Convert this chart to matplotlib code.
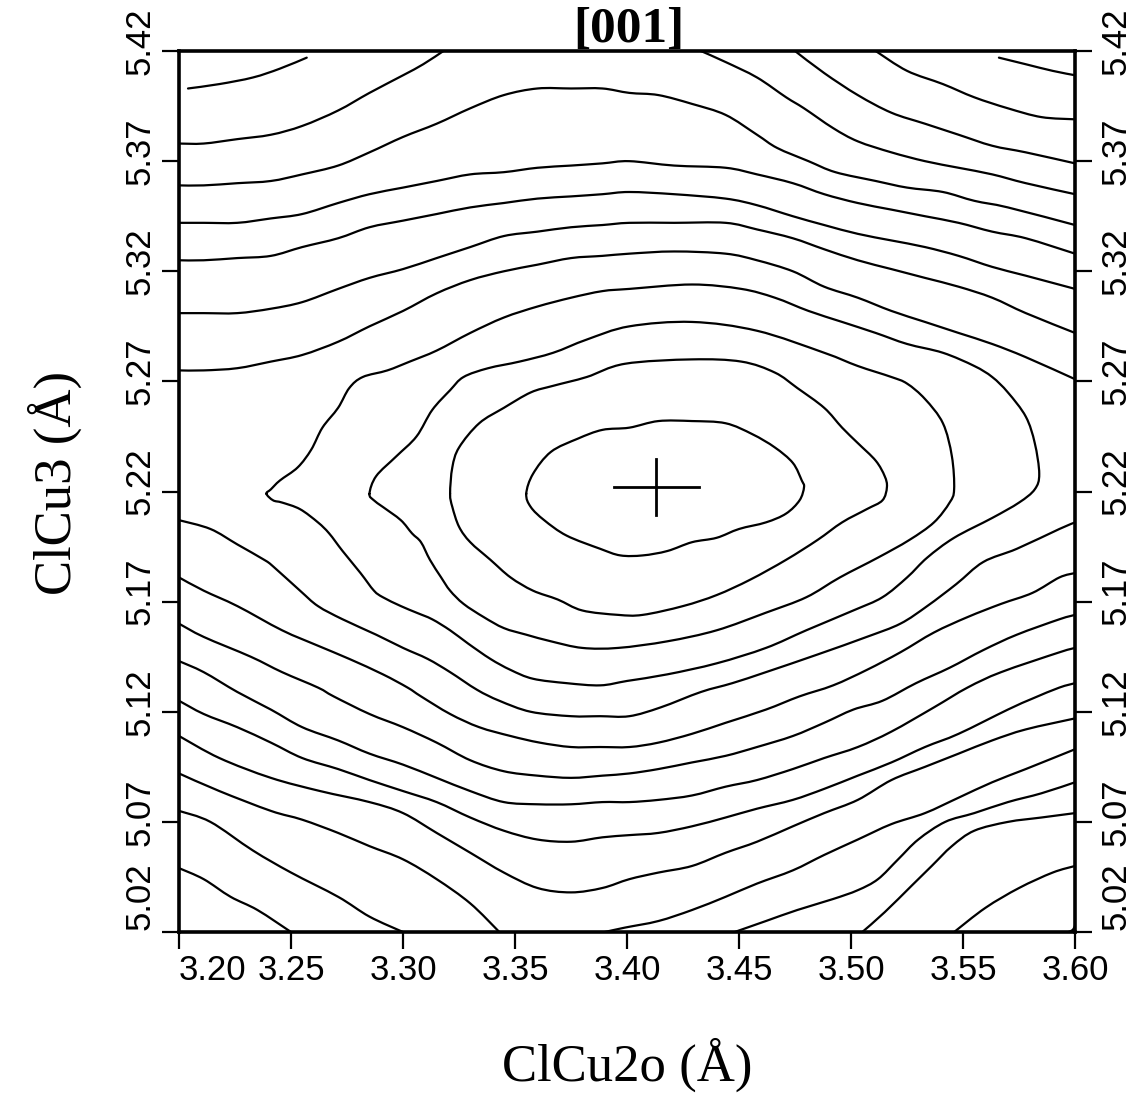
import matplotlib.pyplot as plt
from matplotlib.path import Path
from matplotlib.patches import PathPatch
from matplotlib.transforms import offset_copy

# Energy surface contours, ClCu2o vs ClCu3 distances (Angstrom).
# Each contour is a traced polyline in data coordinates.

x_ticks = [3.20, 3.25, 3.30, 3.35, 3.40, 3.45, 3.50, 3.55, 3.60]
x_labels = ["3.20", "3.25", "3.30", "3.35", "3.40", "3.45", "3.50", "3.55", "3.60"]
y_ticks = [5.02, 5.07, 5.12, 5.17, 5.22, 5.27, 5.32, 5.37, 5.42]
y_labels = ["5.02", "5.07", "5.12", "5.17", "5.22", "5.27", "5.32", "5.37", "5.42"]

# location of the minimum
min_x, min_y = 3.413, 5.222

# closed contours around the minimum, innermost first
ring_1 = ([3.355, 3.357, 3.363, 3.373, 3.388, 3.397, 3.407, 3.418, 3.429, 3.440,
           3.450, 3.462, 3.471, 3.477, 3.479, 3.478, 3.474, 3.466, 3.456, 3.444,
           3.429, 3.414, 3.401, 3.389, 3.378, 3.366, 3.358],
          [5.219, 5.213, 5.207, 5.200, 5.194, 5.191, 5.191, 5.193, 5.197, 5.199,
           5.203, 5.206, 5.210, 5.216, 5.222, 5.225, 5.233, 5.240, 5.246, 5.251,
           5.252, 5.252, 5.249, 5.248, 5.244, 5.238, 5.228])
ring_2 = ([3.321, 3.322, 3.325, 3.330, 3.339, 3.348, 3.358, 3.369, 3.380, 3.396,
           3.407, 3.425, 3.440, 3.455, 3.471, 3.485, 3.496, 3.507, 3.514, 3.516,
           3.515, 3.511, 3.503, 3.496, 3.488, 3.476, 3.466, 3.451, 3.429, 3.399,
           3.382, 3.367, 3.357, 3.345, 3.334, 3.325, 3.322],
          [5.219, 5.213, 5.204, 5.197, 5.189, 5.181, 5.175, 5.171, 5.166, 5.164,
           5.164, 5.168, 5.173, 5.180, 5.189, 5.198, 5.206, 5.212, 5.216, 5.222,
           5.227, 5.234, 5.242, 5.249, 5.258, 5.267, 5.274, 5.279, 5.280, 5.278,
           5.272, 5.268, 5.265, 5.258, 5.251, 5.240, 5.231])
ring_3 = ([3.285, 3.287, 3.291, 3.299, 3.304, 3.308, 3.312, 3.317, 3.321, 3.327,
           3.336, 3.345, 3.355, 3.366, 3.380, 3.396, 3.418, 3.440, 3.462, 3.480,
           3.495, 3.512, 3.526, 3.537, 3.544, 3.546, 3.545, 3.541, 3.533, 3.525,
           3.518, 3.503, 3.488, 3.458, 3.429, 3.401, 3.382, 3.367, 3.352, 3.338,
           3.327, 3.321, 3.313, 3.306, 3.297, 3.288],
          [5.219, 5.216, 5.213, 5.207, 5.201, 5.197, 5.189, 5.181, 5.175, 5.169,
           5.163, 5.158, 5.155, 5.152, 5.149, 5.149, 5.152, 5.157, 5.165, 5.172,
           5.181, 5.190, 5.198, 5.206, 5.215, 5.221, 5.236, 5.251, 5.262, 5.269,
           5.272, 5.277, 5.283, 5.293, 5.297, 5.295, 5.289, 5.283, 5.279, 5.276,
           5.272, 5.266, 5.257, 5.245, 5.236, 5.227])
ring_4 = ([3.239, 3.242, 3.246, 3.254, 3.262, 3.267, 3.273, 3.281, 3.287, 3.291,
           3.299, 3.306, 3.313, 3.321, 3.329, 3.339, 3.348, 3.358, 3.373, 3.388,
           3.400, 3.418, 3.440, 3.462, 3.480, 3.501, 3.514, 3.525, 3.534, 3.546,
           3.563, 3.575, 3.582, 3.584, 3.582, 3.578, 3.570, 3.563, 3.555, 3.541,
           3.525, 3.511, 3.496, 3.481, 3.466, 3.451, 3.429, 3.401, 3.389, 3.375,
           3.360, 3.345, 3.330, 3.315, 3.303, 3.293, 3.282, 3.276, 3.271, 3.264,
           3.259, 3.253, 3.245, 3.241],
          [5.219, 5.216, 5.215, 5.212, 5.206, 5.201, 5.193, 5.183, 5.175, 5.172,
           5.168, 5.165, 5.162, 5.157, 5.151, 5.144, 5.139, 5.135, 5.133, 5.132,
           5.134, 5.137, 5.142, 5.149, 5.157, 5.166, 5.172, 5.181, 5.190, 5.199,
           5.208, 5.215, 5.221, 5.228, 5.242, 5.254, 5.265, 5.272, 5.277, 5.283,
           5.287, 5.292, 5.297, 5.302, 5.308, 5.312, 5.314, 5.312, 5.311, 5.308,
           5.304, 5.299, 5.292, 5.284, 5.279, 5.275, 5.272, 5.267, 5.258, 5.249,
           5.239, 5.231, 5.225, 5.221])
rings = [ring_1, ring_2, ring_3, ring_4]

# open contours above the minimum (levels 5-8 share the same x samples)
upper_x = [3.200, 3.211, 3.226, 3.241, 3.255, 3.271, 3.285, 3.300, 3.315, 3.330,
           3.345, 3.360, 3.375, 3.389, 3.401, 3.421, 3.444, 3.458, 3.474, 3.488,
           3.503, 3.518, 3.533, 3.548, 3.563, 3.578, 3.600]
upper_5 = [5.275, 5.275, 5.276, 5.279, 5.282, 5.288, 5.295, 5.302, 5.310, 5.316,
           5.320, 5.323, 5.326, 5.327, 5.328, 5.329, 5.328, 5.325, 5.320, 5.313,
           5.308, 5.302, 5.297, 5.292, 5.287, 5.281, 5.271]
upper_6 = [5.301, 5.301, 5.301, 5.303, 5.306, 5.312, 5.317, 5.321, 5.326, 5.331,
           5.336, 5.338, 5.340, 5.341, 5.342, 5.342, 5.342, 5.339, 5.335, 5.330,
           5.325, 5.321, 5.317, 5.313, 5.308, 5.301, 5.292]
upper_7 = [5.325, 5.325, 5.326, 5.327, 5.331, 5.335, 5.340, 5.343, 5.346, 5.349,
           5.351, 5.353, 5.354, 5.355, 5.356, 5.355, 5.353, 5.350, 5.345, 5.341,
           5.337, 5.334, 5.331, 5.327, 5.322, 5.318, 5.312]
upper_8 = [5.342, 5.342, 5.342, 5.344, 5.346, 5.351, 5.355, 5.358, 5.361, 5.364,
           5.365, 5.367, 5.368, 5.369, 5.370, 5.368, 5.367, 5.364, 5.360, 5.355,
           5.351, 5.348, 5.345, 5.342, 5.338, 5.335, 5.328]
upper_9 = ([3.200, 3.211, 3.226, 3.241, 3.255, 3.271, 3.285, 3.300, 3.315, 3.330,
            3.345, 3.360, 3.375, 3.389, 3.401, 3.414, 3.429, 3.444, 3.458, 3.467,
            3.481, 3.493, 3.511, 3.525, 3.541, 3.555, 3.570, 3.600],
           [5.359, 5.359, 5.360, 5.361, 5.364, 5.368, 5.374, 5.381, 5.387, 5.394,
            5.400, 5.403, 5.403, 5.403, 5.401, 5.400, 5.396, 5.391, 5.382, 5.376,
            5.370, 5.365, 5.361, 5.358, 5.356, 5.352, 5.349, 5.341])
upper_10_left = ([3.200, 3.211, 3.226, 3.241, 3.255, 3.271, 3.285, 3.300, 3.309, 3.318],
                 [5.378, 5.378, 5.380, 5.382, 5.386, 5.393, 5.401, 5.409, 5.414, 5.420])
upper_10_right = ([3.433, 3.444, 3.458, 3.471, 3.479, 3.492, 3.503, 3.518, 3.533, 3.548,
                   3.563, 3.578, 3.600],
                  [5.420, 5.415, 5.408, 5.399, 5.394, 5.385, 5.379, 5.374, 5.370, 5.367,
                   5.364, 5.360, 5.355])
upper_11_left = ([3.204, 3.218, 3.233, 3.245, 3.257],
                 [5.403, 5.405, 5.408, 5.412, 5.417])
upper_11_right = ([3.475, 3.488, 3.503, 3.518, 3.533, 3.548, 3.563, 3.578, 3.600],
                  [5.420, 5.410, 5.400, 5.392, 5.387, 5.382, 5.377, 5.374, 5.369])
upper_12 = ([3.511, 3.525, 3.541, 3.555, 3.570, 3.585, 3.600],
            [5.420, 5.411, 5.405, 5.399, 5.394, 5.390, 5.389])
upper_13 = ([3.566, 3.578, 3.590, 3.600],
            [5.417, 5.414, 5.411, 5.409])
upper_lines = [(upper_x, upper_5), (upper_x, upper_6), (upper_x, upper_7),
               (upper_x, upper_8), upper_9, upper_10_left, upper_10_right,
               upper_11_left, upper_11_right, upper_12, upper_13]

# open contours below the minimum
lower_5 = ([3.200, 3.214, 3.226, 3.238, 3.242, 3.254, 3.262, 3.273, 3.288, 3.300,
            3.311, 3.321, 3.333, 3.343, 3.357, 3.375, 3.388, 3.401, 3.415, 3.433,
            3.447, 3.462, 3.485, 3.507, 3.522, 3.534, 3.547, 3.559, 3.574, 3.593, 3.600],
           [5.207, 5.203, 5.196, 5.189, 5.186, 5.175, 5.168, 5.162, 5.155, 5.149,
            5.144, 5.138, 5.130, 5.125, 5.120, 5.118, 5.118, 5.118, 5.122, 5.129,
            5.133, 5.138, 5.146, 5.154, 5.160, 5.168, 5.178, 5.188, 5.194, 5.203, 5.206])
lower_6 = ([3.200, 3.211, 3.226, 3.246, 3.262, 3.276, 3.291, 3.302, 3.308,
            3.321, 3.334, 3.348, 3.361, 3.375, 3.388, 3.401, 3.414, 3.429, 3.444,
            3.462, 3.477, 3.492, 3.507, 3.522, 3.537, 3.552, 3.567, 3.581, 3.593, 3.600],
           [5.181, 5.175, 5.168, 5.157, 5.150, 5.144, 5.137, 5.131, 5.127,
            5.119, 5.113, 5.109, 5.106, 5.104, 5.104, 5.104, 5.106, 5.110, 5.115,
            5.121, 5.127, 5.132, 5.139, 5.147, 5.156, 5.163, 5.169, 5.174, 5.181, 5.183])
lower_7 = ([3.200, 3.211, 3.232, 3.246, 3.262, 3.269, 3.285, 3.300, 3.315, 3.330,
            3.345, 3.360, 3.375, 3.389, 3.401, 3.414, 3.429, 3.444, 3.458, 3.474,
            3.488, 3.501, 3.514, 3.529, 3.544, 3.559, 3.574, 3.593, 3.600],
           [5.160, 5.154, 5.145, 5.138, 5.131, 5.127, 5.119, 5.113, 5.106, 5.098,
            5.093, 5.091, 5.090, 5.091, 5.092, 5.094, 5.097, 5.100, 5.104, 5.109,
            5.115, 5.121, 5.125, 5.133, 5.140, 5.148, 5.155, 5.162, 5.164])
lower_8 = ([3.200, 3.211, 3.226, 3.241, 3.255, 3.271, 3.285, 3.300, 3.315, 3.330,
            3.345, 3.360, 3.375, 3.389, 3.401, 3.414, 3.429, 3.444, 3.458, 3.474,
            3.488, 3.503, 3.518, 3.537, 3.552, 3.567, 3.593, 3.600],
           [5.143, 5.138, 5.129, 5.121, 5.113, 5.107, 5.101, 5.096, 5.090, 5.084,
            5.079, 5.078, 5.078, 5.079, 5.079, 5.080, 5.082, 5.086, 5.089, 5.094,
            5.099, 5.104, 5.111, 5.122, 5.131, 5.138, 5.147, 5.149])
lower_9 = ([3.200, 3.211, 3.226, 3.241, 3.255, 3.271, 3.285, 3.300, 3.315, 3.330,
            3.345, 3.360, 3.375, 3.389, 3.401, 3.414, 3.429, 3.444, 3.458, 3.474,
            3.488, 3.503, 3.518, 3.533, 3.548, 3.570, 3.581, 3.593, 3.600],
           [5.125, 5.119, 5.113, 5.106, 5.099, 5.094, 5.089, 5.084, 5.079, 5.072,
            5.066, 5.062, 5.061, 5.063, 5.064, 5.065, 5.068, 5.072, 5.076, 5.080,
            5.085, 5.091, 5.097, 5.104, 5.110, 5.121, 5.126, 5.131, 5.133])
lower_10 = ([3.200, 3.218, 3.241, 3.263, 3.285, 3.300, 3.315, 3.330, 3.345, 3.360,
             3.375, 3.389, 3.401, 3.414, 3.429, 3.444, 3.458, 3.474, 3.488, 3.503,
             3.518, 3.533, 3.548, 3.563, 3.578, 3.600],
            [5.109, 5.099, 5.090, 5.084, 5.079, 5.074, 5.065, 5.056, 5.047, 5.040,
             5.038, 5.040, 5.044, 5.047, 5.050, 5.056, 5.061, 5.068, 5.074, 5.080,
             5.089, 5.095, 5.101, 5.107, 5.112, 5.117])
lower_11_left = ([3.200, 3.218, 3.241, 3.255, 3.271, 3.285, 3.300, 3.315, 3.330, 3.343],
                 [5.092, 5.084, 5.075, 5.071, 5.065, 5.059, 5.053, 5.044, 5.033, 5.020])
lower_11_right = ([3.390, 3.399, 3.414, 3.429, 3.444, 3.458, 3.474, 3.488, 3.503, 3.518,
                   3.533, 3.548, 3.563, 3.578, 3.600],
                  [5.020, 5.022, 5.025, 5.030, 5.036, 5.042, 5.048, 5.055, 5.062, 5.069,
                   5.074, 5.081, 5.088, 5.094, 5.103])
lower_12_left = ([3.200, 3.214, 3.233, 3.250, 3.271, 3.285, 3.300],
                 [5.075, 5.070, 5.057, 5.047, 5.036, 5.027, 5.020])
lower_12_right = ([3.448, 3.462, 3.476, 3.492, 3.503, 3.512, 3.521, 3.530, 3.542, 3.555,
                   3.570, 3.585, 3.600],
                  [5.020, 5.025, 5.030, 5.035, 5.039, 5.044, 5.053, 5.062, 5.070, 5.074,
                   5.079, 5.083, 5.088])
lower_13_left = ([3.200, 3.211, 3.223, 3.235, 3.250],
                 [5.049, 5.044, 5.036, 5.030, 5.020])
lower_13_right = ([3.505, 3.515, 3.527, 3.536, 3.545, 3.555, 3.570, 3.585, 3.600],
                  [5.020, 5.029, 5.041, 5.050, 5.059, 5.066, 5.070, 5.072, 5.074])
lower_14 = ([3.546, 3.560, 3.575, 3.590, 3.600],
            [5.020, 5.031, 5.040, 5.047, 5.050])
lower_15 = ([3.597, 3.599, 3.600],
            [5.020, 5.021, 5.023])
lower_lines = [lower_5, lower_6, lower_7, lower_8, lower_9, lower_10,
               lower_11_left, lower_11_right, lower_12_left, lower_12_right,
               lower_13_left, lower_13_right, lower_14, lower_15]

# half lengths of the cross arms
arm_x, arm_y = 0.019, 0.0127

sans = ['Liberation Sans Narrow', 'Liberation Sans', 'DejaVu Sans']
serif = ['Liberation Serif', 'DejaVu Serif']


def curve_through(xs, ys, closed=False):
    """Bezier path passing through every traced point (Catmull-Rom tangents)."""
    pts = list(zip(xs, ys))
    if closed:
        ext = [pts[-1]] + pts + [pts[0], pts[1]]
    else:
        ext = [pts[0]] + pts + [pts[-1]]
    verts = [pts[0]]
    codes = [Path.MOVETO]
    for i in range(1, len(ext) - 2):
        p0, p1, p2, p3 = ext[i - 1], ext[i], ext[i + 1], ext[i + 2]
        c1 = (p1[0] + (p2[0] - p0[0]) / 6, p1[1] + (p2[1] - p0[1]) / 6)
        c2 = (p2[0] - (p3[0] - p1[0]) / 6, p2[1] - (p3[1] - p1[1]) / 6)
        verts += [c1, c2, p2]
        codes += [Path.CURVE4] * 3
    return Path(verts, codes)


fig = plt.figure(figsize=(11.47, 11.0), dpi=100)
ax = fig.add_axes([0.1561, 0.1527, 0.7812, 0.8009])

patch_kw = dict(fill=False, edgecolor='black', lw=1.6, capstyle='round', joinstyle='round')

for xs, ys in rings:
    ax.add_patch(PathPatch(curve_through(xs, ys, closed=True), **patch_kw))
for xs, ys in upper_lines + lower_lines:
    ax.add_patch(PathPatch(curve_through(xs, ys), **patch_kw))

# cross marking the minimum
ax.plot([min_x - arm_x, min_x + arm_x], [min_y, min_y], color='black', lw=2)
ax.plot([min_x, min_x], [min_y - arm_y, min_y + arm_y], color='black', lw=2)

ax.set_xlim(3.20, 3.60)
ax.set_ylim(5.02, 5.42)
ax.set_xticks(x_ticks)
ax.set_yticks(y_ticks)
ax.tick_params(axis='both', direction='out', length=12, width=1.6,
               labelbottom=False, labelleft=False)
ax.tick_params(axis='y', right=True)
for sp in ax.spines.values():
    sp.set_linewidth(2.6)

# tick labels placed by hand so the corner ones can be nudged inward
xt = ax.get_xaxis_transform()
for v, t in zip(x_ticks, x_labels):
    ha = 'left' if v == x_ticks[0] else 'center'
    ax.text(v, 0, t, transform=offset_copy(xt, fig=fig, x=0, y=-38, units='dots'),
            ha=ha, va='center', fontsize=25, family=sans)

yt = ax.get_yaxis_transform()
for v, t in zip(y_ticks, y_labels):
    va = 'bottom' if v == y_ticks[0] else 'center'
    dy = 2 if v == y_ticks[0] else 10
    for side, dx in ((0, -39), (1, 41)):
        ax.text(side, v, t, transform=offset_copy(yt, fig=fig, x=dx, y=dy, units='dots'),
                rotation=90, ha='center', va=va, fontsize=25, family=sans)

fig.text(0.5466, 0.0318, 'ClCu2o (Å)', ha='center', va='center',
         fontsize=38, family=serif)
fig.text(0.048, 0.561, 'ClCu3 (Å)', ha='center', va='center', rotation=90,
         fontsize=38, family=serif)
fig.text(0.548, 0.962, '[001]', ha='center', va='baseline',
         fontsize=37, fontweight='bold', family=serif)

fig.savefig('out.png', dpi=100)
